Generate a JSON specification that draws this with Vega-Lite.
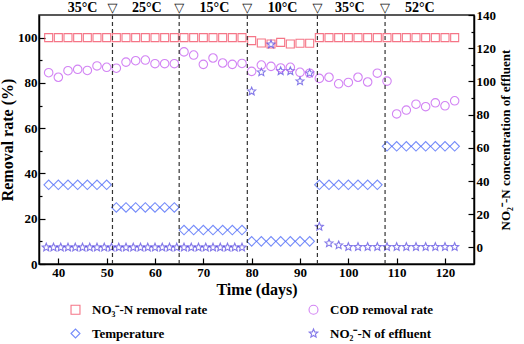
{
  "$schema": "https://vega.github.io/schema/vega-lite/v6.json",
  "width": 435,
  "height": 249,
  "autosize": "none",
  "padding": {"left": 39, "top": 15, "right": 50, "bottom": 80},
  "background": "white",
  "config": {
    "view": {"stroke": "#222", "strokeWidth": 1.5},
    "font": "Liberation Serif",
    "axis": {"grid": false, "domainColor": "black", "domainWidth": 1.5, "tickColor": "black", "tickWidth": 1.2, "labelFontWeight": "bold", "labelFontSize": 13, "labelColor": "black", "titleFontWeight": "bold", "titleColor": "black"}
  },
  "datasets": {
    "no3": [
      {"day":38,"value":100,"series":"NO₃⁻-N removal rate"},{"day":40,"value":100,"series":"NO₃⁻-N removal rate"},{"day":42,"value":100,"series":"NO₃⁻-N removal rate"},{"day":44,"value":100,"series":"NO₃⁻-N removal rate"},{"day":46,"value":100,"series":"NO₃⁻-N removal rate"},{"day":48,"value":100,"series":"NO₃⁻-N removal rate"},{"day":50,"value":100,"series":"NO₃⁻-N removal rate"},{"day":52,"value":100,"series":"NO₃⁻-N removal rate"},{"day":54,"value":100,"series":"NO₃⁻-N removal rate"},{"day":56,"value":100,"series":"NO₃⁻-N removal rate"},{"day":58,"value":100,"series":"NO₃⁻-N removal rate"},{"day":60,"value":100,"series":"NO₃⁻-N removal rate"},{"day":62,"value":100,"series":"NO₃⁻-N removal rate"},{"day":64,"value":100,"series":"NO₃⁻-N removal rate"},{"day":66,"value":100,"series":"NO₃⁻-N removal rate"},{"day":68,"value":100,"series":"NO₃⁻-N removal rate"},{"day":70,"value":100,"series":"NO₃⁻-N removal rate"},{"day":72,"value":100,"series":"NO₃⁻-N removal rate"},{"day":74,"value":100,"series":"NO₃⁻-N removal rate"},{"day":76,"value":100,"series":"NO₃⁻-N removal rate"},{"day":78,"value":100,"series":"NO₃⁻-N removal rate"},
      {"day":80,"value":98.7,"series":"NO₃⁻-N removal rate"},{"day":82,"value":97.6,"series":"NO₃⁻-N removal rate"},{"day":84,"value":97.2,"series":"NO₃⁻-N removal rate"},{"day":86,"value":97.9,"series":"NO₃⁻-N removal rate"},{"day":88,"value":97.2,"series":"NO₃⁻-N removal rate"},{"day":90,"value":97.5,"series":"NO₃⁻-N removal rate"},{"day":92,"value":97.5,"series":"NO₃⁻-N removal rate"},
      {"day":94,"value":100,"series":"NO₃⁻-N removal rate"},{"day":96,"value":100,"series":"NO₃⁻-N removal rate"},{"day":98,"value":100,"series":"NO₃⁻-N removal rate"},{"day":100,"value":100,"series":"NO₃⁻-N removal rate"},{"day":102,"value":100,"series":"NO₃⁻-N removal rate"},{"day":104,"value":100,"series":"NO₃⁻-N removal rate"},{"day":106,"value":100,"series":"NO₃⁻-N removal rate"},{"day":108,"value":100,"series":"NO₃⁻-N removal rate"},{"day":110,"value":100,"series":"NO₃⁻-N removal rate"},{"day":112,"value":100,"series":"NO₃⁻-N removal rate"},{"day":114,"value":100,"series":"NO₃⁻-N removal rate"},{"day":116,"value":100,"series":"NO₃⁻-N removal rate"},{"day":118,"value":100,"series":"NO₃⁻-N removal rate"},{"day":120,"value":100,"series":"NO₃⁻-N removal rate"},{"day":122,"value":100,"series":"NO₃⁻-N removal rate"}
    ],
    "cod": [
      {"day":38,"value":84.5,"series":"COD removal rate"},{"day":40,"value":82.5,"series":"COD removal rate"},{"day":42,"value":85.4,"series":"COD removal rate"},{"day":44,"value":86.0,"series":"COD removal rate"},{"day":46,"value":85.5,"series":"COD removal rate"},{"day":48,"value":87.5,"series":"COD removal rate"},{"day":50,"value":86.9,"series":"COD removal rate"},{"day":52,"value":86.5,"series":"COD removal rate"},{"day":54,"value":89.2,"series":"COD removal rate"},{"day":56,"value":89.8,"series":"COD removal rate"},{"day":58,"value":90.1,"series":"COD removal rate"},{"day":60,"value":88.5,"series":"COD removal rate"},{"day":62,"value":88.5,"series":"COD removal rate"},{"day":64,"value":88.5,"series":"COD removal rate"},{"day":66,"value":93.7,"series":"COD removal rate"},{"day":68,"value":92.3,"series":"COD removal rate"},{"day":70,"value":88.2,"series":"COD removal rate"},{"day":72,"value":91.0,"series":"COD removal rate"},{"day":74,"value":88.8,"series":"COD removal rate"},{"day":76,"value":88.2,"series":"COD removal rate"},{"day":78,"value":88.6,"series":"COD removal rate"},{"day":80,"value":85.1,"series":"COD removal rate"},{"day":82,"value":87.9,"series":"COD removal rate"},{"day":84,"value":87.3,"series":"COD removal rate"},{"day":86,"value":86.6,"series":"COD removal rate"},{"day":88,"value":86.9,"series":"COD removal rate"},{"day":90,"value":84.7,"series":"COD removal rate"},{"day":92,"value":84.3,"series":"COD removal rate"},{"day":94,"value":82.0,"series":"COD removal rate"},{"day":96,"value":82.5,"series":"COD removal rate"},{"day":98,"value":79.6,"series":"COD removal rate"},{"day":100,"value":80.2,"series":"COD removal rate"},{"day":102,"value":82.5,"series":"COD removal rate"},{"day":104,"value":80.4,"series":"COD removal rate"},{"day":106,"value":84.3,"series":"COD removal rate"},{"day":108,"value":80.8,"series":"COD removal rate"},{"day":110,"value":66.3,"series":"COD removal rate"},{"day":112,"value":68.0,"series":"COD removal rate"},{"day":114,"value":70.6,"series":"COD removal rate"},{"day":116,"value":69.5,"series":"COD removal rate"},{"day":118,"value":71.2,"series":"COD removal rate"},{"day":120,"value":69.9,"series":"COD removal rate"},{"day":122,"value":72.1,"series":"COD removal rate"}
    ],
    "temp": [
      {"day":38,"value":35,"series":"Temperature"},{"day":40,"value":35,"series":"Temperature"},{"day":42,"value":35,"series":"Temperature"},{"day":44,"value":35,"series":"Temperature"},{"day":46,"value":35,"series":"Temperature"},{"day":48,"value":35,"series":"Temperature"},{"day":50,"value":35,"series":"Temperature"},
      {"day":52,"value":25,"series":"Temperature"},{"day":54,"value":25,"series":"Temperature"},{"day":56,"value":25,"series":"Temperature"},{"day":58,"value":25,"series":"Temperature"},{"day":60,"value":25,"series":"Temperature"},{"day":62,"value":25,"series":"Temperature"},{"day":64,"value":25,"series":"Temperature"},
      {"day":66,"value":15,"series":"Temperature"},{"day":68,"value":15,"series":"Temperature"},{"day":70,"value":15,"series":"Temperature"},{"day":72,"value":15,"series":"Temperature"},{"day":74,"value":15,"series":"Temperature"},{"day":76,"value":15,"series":"Temperature"},{"day":78,"value":15,"series":"Temperature"},
      {"day":80,"value":10,"series":"Temperature"},{"day":82,"value":10,"series":"Temperature"},{"day":84,"value":10,"series":"Temperature"},{"day":86,"value":10,"series":"Temperature"},{"day":88,"value":10,"series":"Temperature"},{"day":90,"value":10,"series":"Temperature"},{"day":92,"value":10,"series":"Temperature"},
      {"day":94,"value":35,"series":"Temperature"},{"day":96,"value":35,"series":"Temperature"},{"day":98,"value":35,"series":"Temperature"},{"day":100,"value":35,"series":"Temperature"},{"day":102,"value":35,"series":"Temperature"},{"day":104,"value":35,"series":"Temperature"},{"day":106,"value":35,"series":"Temperature"},
      {"day":108,"value":52,"series":"Temperature"},{"day":110,"value":52,"series":"Temperature"},{"day":112,"value":52,"series":"Temperature"},{"day":114,"value":52,"series":"Temperature"},{"day":116,"value":52,"series":"Temperature"},{"day":118,"value":52,"series":"Temperature"},{"day":120,"value":52,"series":"Temperature"},{"day":122,"value":52,"series":"Temperature"}
    ],
    "no2": [
      {"day":37.5,"value":0,"series":"NO₂⁻-N of effluent"},{"day":39,"value":0,"series":"NO₂⁻-N of effluent"},{"day":40.5,"value":0,"series":"NO₂⁻-N of effluent"},{"day":42,"value":0,"series":"NO₂⁻-N of effluent"},{"day":43.5,"value":0,"series":"NO₂⁻-N of effluent"},{"day":45,"value":0,"series":"NO₂⁻-N of effluent"},{"day":46.5,"value":0,"series":"NO₂⁻-N of effluent"},{"day":48,"value":0,"series":"NO₂⁻-N of effluent"},{"day":49.5,"value":0,"series":"NO₂⁻-N of effluent"},{"day":51,"value":0,"series":"NO₂⁻-N of effluent"},{"day":52.5,"value":0,"series":"NO₂⁻-N of effluent"},{"day":54,"value":0,"series":"NO₂⁻-N of effluent"},{"day":55.5,"value":0,"series":"NO₂⁻-N of effluent"},{"day":57,"value":0,"series":"NO₂⁻-N of effluent"},{"day":58.5,"value":0,"series":"NO₂⁻-N of effluent"},{"day":60,"value":0,"series":"NO₂⁻-N of effluent"},{"day":61.5,"value":0,"series":"NO₂⁻-N of effluent"},{"day":63,"value":0,"series":"NO₂⁻-N of effluent"},{"day":64.5,"value":0,"series":"NO₂⁻-N of effluent"},{"day":66,"value":0,"series":"NO₂⁻-N of effluent"},{"day":67.5,"value":0,"series":"NO₂⁻-N of effluent"},{"day":69,"value":0,"series":"NO₂⁻-N of effluent"},{"day":70.5,"value":0,"series":"NO₂⁻-N of effluent"},{"day":72,"value":0,"series":"NO₂⁻-N of effluent"},{"day":73.5,"value":0,"series":"NO₂⁻-N of effluent"},{"day":75,"value":0,"series":"NO₂⁻-N of effluent"},{"day":76.5,"value":0,"series":"NO₂⁻-N of effluent"},{"day":78,"value":0,"series":"NO₂⁻-N of effluent"},
      {"day":80,"value":94,"series":"NO₂⁻-N of effluent"},{"day":82,"value":105.5,"series":"NO₂⁻-N of effluent"},{"day":84,"value":122.3,"series":"NO₂⁻-N of effluent"},{"day":86,"value":106.2,"series":"NO₂⁻-N of effluent"},{"day":88,"value":106.2,"series":"NO₂⁻-N of effluent"},{"day":90,"value":100.1,"series":"NO₂⁻-N of effluent"},{"day":92,"value":104.9,"series":"NO₂⁻-N of effluent"},
      {"day":94,"value":12.5,"series":"NO₂⁻-N of effluent"},{"day":96,"value":2.5,"series":"NO₂⁻-N of effluent"},{"day":98,"value":1.3,"series":"NO₂⁻-N of effluent"},{"day":100,"value":0.3,"series":"NO₂⁻-N of effluent"},{"day":102,"value":0.3,"series":"NO₂⁻-N of effluent"},{"day":104,"value":0.3,"series":"NO₂⁻-N of effluent"},{"day":106,"value":0.3,"series":"NO₂⁻-N of effluent"},{"day":108,"value":0.3,"series":"NO₂⁻-N of effluent"},{"day":110,"value":0.3,"series":"NO₂⁻-N of effluent"},{"day":112,"value":0.3,"series":"NO₂⁻-N of effluent"},{"day":114,"value":0.3,"series":"NO₂⁻-N of effluent"},{"day":116,"value":0.3,"series":"NO₂⁻-N of effluent"},{"day":118,"value":0.3,"series":"NO₂⁻-N of effluent"},{"day":120,"value":0.3,"series":"NO₂⁻-N of effluent"},{"day":122,"value":0.3,"series":"NO₂⁻-N of effluent"}
    ],
    "stages": [
      {"day":45,"label":"35°C"},{"day":58.3,"label":"25°C"},{"day":72.3,"label":"15°C"},{"day":86.4,"label":"10°C"},{"day":100.3,"label":"35°C"},{"day":114.8,"label":"52°C"}
    ],
    "bounds": [
      {"day":51.2,"mark":"▽"},{"day":65,"mark":"▽"},{"day":79.1,"mark":"▽"},{"day":93.6,"mark":"▽"},{"day":107.6,"mark":"▽"}
    ]
  },
  "layer": [
    {
      "data": {"name": "no3"},
      "mark": {"type": "point", "filled": false, "size": 64, "strokeWidth": 1.1},
      "encoding": {
        "x": {"field": "day", "type": "quantitative", "scale": {"domain": [36, 126], "nice": false, "zero": false},
          "axis": {"title": "Time (days)", "titleFontSize": 16, "values": [40,45,50,55,60,65,70,75,80,85,90,95,100,105,110,115,120,125],
            "labelExpr": "datum.value % 10 === 0 ? datum.label : ''",
            "tickSize": {"condition": {"test": "datum.value % 10 === 0", "value": -6}, "value": -3},
            "labelPadding": 8, "titlePadding": 2}},
        "y": {"field": "value", "type": "quantitative", "scale": {"domain": [0, 110], "nice": false},
          "axis": {"title": "Removal rate (%)", "titleFontSize": 16, "values": [0,10,20,30,40,50,60,70,80,90,100],
            "labelExpr": "datum.value % 20 === 0 ? datum.label : ''",
            "tickSize": {"condition": {"test": "datum.value % 20 === 0", "value": -6}, "value": -3},
            "labelPadding": 8, "titlePadding": 2}},
        "color": {"field": "series", "type": "nominal",
          "scale": {"domain": ["NO₃⁻-N removal rate", "COD removal rate", "Temperature", "NO₂⁻-N of effluent"],
                    "range": ["#f23c55", "#c050f0", "#3c5cf8", "#5040e0"]},
          "legend": {"title": null, "orient": "none", "legendX": 30, "legendY": 288, "columns": 2, "direction": "horizontal",
            "columnPadding": 98, "rowPadding": 9, "labelFontSize": 13, "labelFontWeight": "bold", "labelColor": "black",
            "symbolSize": 80, "symbolStrokeWidth": 1.1, "labelOffset": 10, "labelLimit": 300}},
        "shape": {"field": "series", "type": "nominal",
          "scale": {"domain": ["NO₃⁻-N removal rate", "COD removal rate", "Temperature", "NO₂⁻-N of effluent"],
                    "range": ["square", "circle", "diamond", "M0,-1L0.265,-0.364L0.951,-0.309L0.428,0.139L0.588,0.809L0,0.45L-0.588,0.809L-0.428,0.139L-0.951,-0.309L-0.265,-0.364Z"]}}
      }
    },
    {
      "data": {"name": "no2"},
      "mark": {"type": "point", "filled": false, "size": 70, "strokeWidth": 1.1},
      "encoding": {
        "x": {"field": "day", "type": "quantitative"},
        "y": {"field": "value", "type": "quantitative",
          "scale": {"domain": [-10, 140], "nice": false, "zero": false},
          "axis": {"orient": "right", "title": "NO₂⁻-N concentration of effluent", "titleFontSize": 13, "titleAngle": 270, "titleBaseline": "top",
            "values": [0,10,20,30,40,50,60,70,80,90,100,110,120,130,140],
            "labelExpr": "datum.value % 20 === 0 ? datum.label : ''",
            "tickSize": {"condition": {"test": "datum.value % 20 === 0", "value": -6}, "value": -3},
            "labelPadding": 8, "titlePadding": 4}},
        "color": {"field": "series", "type": "nominal"},
        "shape": {"field": "series", "type": "nominal"}
      }
    },
    {
      "data": {"name": "cod"},
      "mark": {"type": "point", "filled": false, "size": 72, "strokeWidth": 1.1},
      "encoding": {
        "x": {"field": "day", "type": "quantitative"},
        "y": {"field": "value", "type": "quantitative", "scale": {"domain": [0, 110], "nice": false}, "axis": null},
        "color": {"field": "series", "type": "nominal"},
        "shape": {"field": "series", "type": "nominal"}
      }
    },
    {
      "data": {"name": "temp"},
      "mark": {"type": "point", "filled": false, "size": 90, "strokeWidth": 1.1},
      "encoding": {
        "x": {"field": "day", "type": "quantitative"},
        "y": {"field": "value", "type": "quantitative", "scale": {"domain": [0, 110], "nice": false}, "axis": null},
        "color": {"field": "series", "type": "nominal"},
        "shape": {"field": "series", "type": "nominal"}
      }
    },
    {
      "data": {"name": "bounds"},
      "mark": {"type": "rule", "strokeDash": [4, 3], "color": "#333", "strokeWidth": 1.2, "clip": false},
      "encoding": {
        "x": {"field": "day", "type": "quantitative"},
        "y": {"datum": 0, "type": "quantitative", "scale": {"domain": [0, 110], "nice": false}, "axis": null},
        "y2": {"datum": 111}
      }
    },
    {
      "data": {"name": "bounds"},
      "mark": {"type": "text", "fontSize": 13, "color": "#111", "baseline": "middle", "clip": false, "font": "DejaVu Sans"},
      "encoding": {
        "x": {"field": "day", "type": "quantitative"},
        "y": {"datum": 113.3, "type": "quantitative", "scale": {"domain": [0, 110], "nice": false}, "axis": null},
        "text": {"field": "mark"}
      }
    },
    {
      "data": {"name": "stages"},
      "mark": {"type": "text", "fontSize": 14, "fontWeight": "bold", "color": "black", "baseline": "middle", "clip": false},
      "encoding": {
        "x": {"field": "day", "type": "quantitative"},
        "y": {"datum": 113.3, "type": "quantitative", "scale": {"domain": [0, 110], "nice": false}, "axis": null},
        "text": {"field": "label"}
      }
    }
  ],
  "resolve": {"scale": {"y": "independent"}}
}
